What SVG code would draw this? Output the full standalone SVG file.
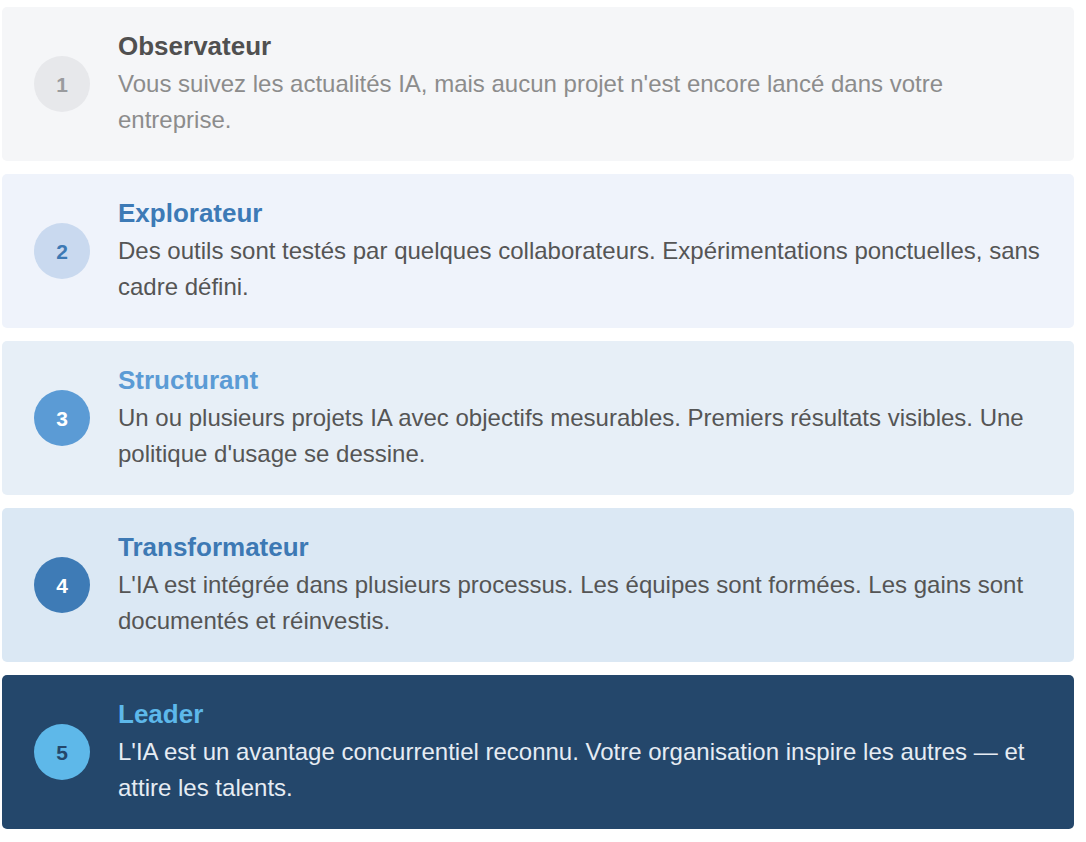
<svg xmlns="http://www.w3.org/2000/svg" width="1086" height="842" viewBox="0 0 1086 842">
<style>
.card{stroke:none}
.num{font-family:"Liberation Sans",Arial,sans-serif;font-size:21px;font-weight:bold;text-anchor:middle}
.title{font-family:"Liberation Sans",Arial,sans-serif;font-size:26px;font-weight:bold}
.body{font-family:"Liberation Sans",Arial,sans-serif;font-size:24px}
</style>
<rect width="1086" height="842" fill="#ffffff"/>
<g id="node1">
<rect class="card" x="2" y="7" width="1072" height="154" rx="5" fill="#f5f6f8"/>
<circle cx="62" cy="84" r="28" fill="#e7e8eb"/>
<text class="num" x="62" y="92" fill="#9a9b9e">1</text>
<text class="title" x="118" y="55" fill="#505050">Observateur</text>
<text class="body" fill="#8c8c8c"><tspan x="118" y="92">Vous suivez les actualités IA, mais aucun projet n'est encore lancé dans votre</tspan><tspan x="118" y="128">entreprise.</tspan></text>
</g>
<g id="node2">
<rect class="card" x="2" y="174" width="1072" height="154" rx="5" fill="#eff3fb"/>
<circle cx="62" cy="251" r="28" fill="#c9d9ef"/>
<text class="num" x="62" y="259" fill="#3d79b4">2</text>
<text class="title" x="118" y="222" fill="#3d7ab6">Explorateur</text>
<text class="body" fill="#555555"><tspan x="118" y="259">Des outils sont testés par quelques collaborateurs. Expérimentations ponctuelles, sans</tspan><tspan x="118" y="295">cadre défini.</tspan></text>
</g>
<g id="node3">
<rect class="card" x="2" y="341" width="1072" height="154" rx="5" fill="#e7eff7"/>
<circle cx="62" cy="418" r="28" fill="#5b9bd5"/>
<text class="num" x="62" y="426" fill="#ffffff">3</text>
<text class="title" x="118" y="389" fill="#5b9bd5">Structurant</text>
<text class="body" fill="#555555"><tspan x="118" y="426">Un ou plusieurs projets IA avec objectifs mesurables. Premiers résultats visibles. Une</tspan><tspan x="118" y="462">politique d'usage se dessine.</tspan></text>
</g>
<g id="node4">
<rect class="card" x="2" y="508" width="1072" height="154" rx="5" fill="#dbe8f4"/>
<circle cx="62" cy="585" r="28" fill="#3e7bb6"/>
<text class="num" x="62" y="593" fill="#ffffff">4</text>
<text class="title" x="118" y="556" fill="#3d79b4">Transformateur</text>
<text class="body" fill="#555555"><tspan x="118" y="593">L'IA est intégrée dans plusieurs processus. Les équipes sont formées. Les gains sont</tspan><tspan x="118" y="629">documentés et réinvestis.</tspan></text>
</g>
<g id="node5">
<rect class="card" x="2" y="675" width="1072" height="154" rx="5" fill="#24476b"/>
<circle cx="62" cy="752" r="28" fill="#5eb8e9"/>
<text class="num" x="62" y="760" fill="#24476b">5</text>
<text class="title" x="118" y="723" fill="#5db8ea">Leader</text>
<text class="body" fill="#e6ecf3"><tspan x="118" y="760">L'IA est un avantage concurrentiel reconnu. Votre organisation inspire les autres — et</tspan><tspan x="118" y="796">attire les talents.</tspan></text>
</g>
<g id="connectors"/>
</svg>
